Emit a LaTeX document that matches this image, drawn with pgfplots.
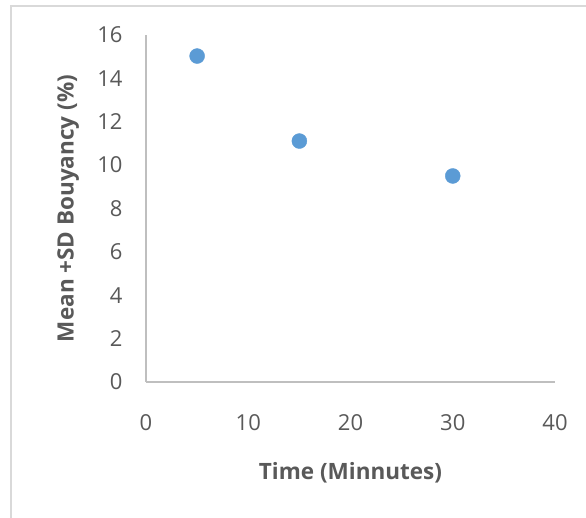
\documentclass[border=0pt]{standalone}
\usepackage{pgfplots}
\pgfplotsset{compat=1.18}
\usepackage{fontspec}
\setmainfont{Open Sans}
\definecolor{txt}{HTML}{595959}
\definecolor{axl}{HTML}{BFBFBF}
\definecolor{mk}{HTML}{5B9BD5}
\definecolor{brd}{HTML}{D9D9D9}
\begin{document}
\begin{tikzpicture}[x=1pt,y=1pt]
\useasboundingbox (0,0) rectangle (586,518);
\draw[brd, line width=2pt] (11,0) -- (11,512) -- (586,512);
\begin{axis}[
  at={(146pt,136pt)}, anchor=south west,
  scale only axis, width=409pt, height=347pt,
  xmin=0, xmax=40, ymin=0, ymax=16,
  xtick={0,10,...,40}, ytick={0,2,...,16},
  axis lines*=left,
  axis line style={axl, line width=1.3pt},
  major tick length=0pt, tick style={draw=none},
  /pgf/number format/assume math mode=true,
  ticklabel style={font=\fontsize{22}{26}\selectfont, text=txt},
  xticklabel shift=29pt,
  yticklabel shift=20pt,
  xlabel={Time (Minnutes)},
  ylabel={Mean +SD Bouyancy (\%)},
  label style={font=\fontsize{22.5}{26}\selectfont\bfseries, text=txt},
  x label style={at={(axis description cs:0.5,-0.262)}, anchor=center},
  y label style={at={(axis description cs:-0.19,0.5)}, anchor=center, rotate=0},
  clip=false,
]
\addplot[only marks, mark=*, mark size=7.5pt, color=mk, mark options={fill=mk, draw=mk}]
  coordinates {(5,15.03) (15,11.11) (30,9.5)};
\end{axis}
\end{tikzpicture}
\end{document}
